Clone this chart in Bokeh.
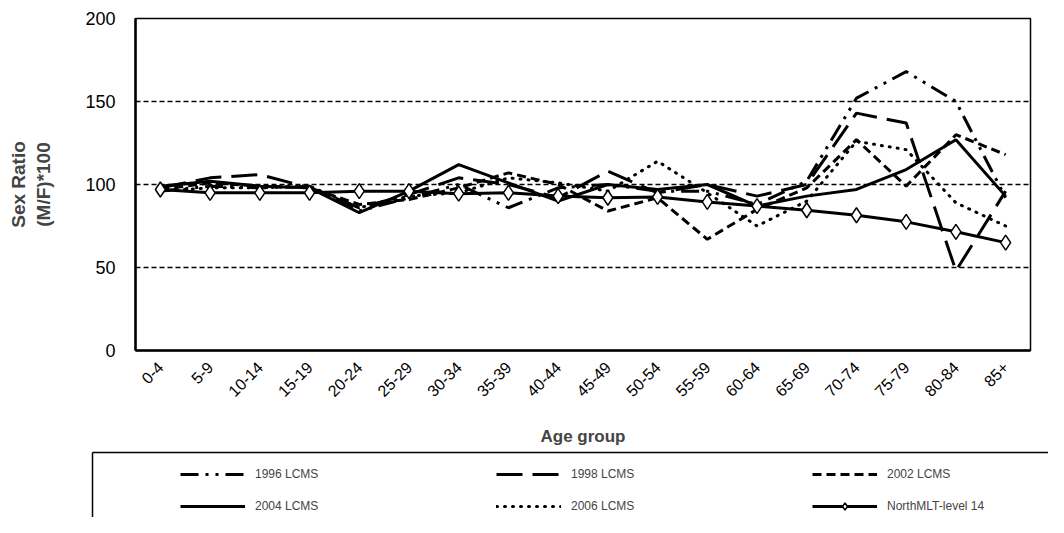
import math
from bokeh.plotting import figure
from bokeh.layouts import column, row
from bokeh.models import Legend, LegendItem, FactorRange, FixedTicker, LinearAxis, Range1d
from bokeh.embed import file_html
from bokeh.resources import INLINE

age_groups = ["0-4", "5-9", "10-14", "15-19", "20-24", "25-29", "30-34", "35-39", "40-44",
              "45-49", "50-54", "55-59", "60-64", "65-69", "70-74", "75-79", "80-84", "85+"]

lcms_1996 = [96, 99, 98, 99, 84, 92, 100, 86, 98, 100, 96, 96, 88, 102, 152, 168, 150, 92]
lcms_1998 = [98, 104, 106, 98, 86, 94, 104, 100, 92, 108, 95, 100, 93, 100, 143, 137, 48, 96]
lcms_2002 = [97, 101, 99, 98, 88, 91, 98, 107, 100, 84, 92, 67, 85, 98, 127, 99, 130, 118]
lcms_2004 = [99, 102, 99, 98, 83, 96, 112, 101, 90, 100, 97, 100, 87, 93, 97, 109, 127, 93]
lcms_2006 = [96, 98, 98, 99, 86, 93, 95, 104, 101, 96, 114, 95, 75, 90, 126, 121, 89, 75]
north_mlt = [97, 95, 95, 95, 96, 96, 94.5, 95, 93, 92, 92.5, 89.5, 87, 84.5, 81.5, 77.5, 71.5, 65]

series_names = ["1996 LCMS", "1998 LCMS", "2002 LCMS", "2004 LCMS", "2006 LCMS", "NorthMLT-level 14"]
series_values = [lcms_1996, lcms_1998, lcms_2002, lcms_2004, lcms_2006, north_mlt]

y_ticks = [0, 50, 100, 150, 200]

FONT = "Liberation Sans"
W = 3
STYLES = [
    dict(line_dash="18 7 3 7 3 7"),
    dict(line_dash="26 10"),
    dict(line_dash="9 5"),
    dict(line_dash="solid"),
    dict(line_dash="1 7", line_cap="round"),
    dict(line_dash="solid"),
]


def draw_series(fig, xs):
    rends = []
    for vals, st in zip(series_values, STYLES):
        r = fig.line(xs, vals, line_color="black", line_width=W, **st)
        rends.append([r])
    m = fig.scatter(xs, north_mlt, marker="diamond", size=15, fill_color="white",
                    line_color="black", line_width=1.5)
    rends[-1].append(m)
    return rends


# ---------------- main chart ----------------
p = figure(width=1048, height=450, x_range=FactorRange(*age_groups), y_range=(0, 200),
           output_backend="svg", toolbar_location=None,
           min_border_left=135, min_border_right=18, min_border_top=18, min_border_bottom=100)

p.background_fill_color = "white"
p.border_fill_color = "white"
p.outline_line_color = "black"
p.outline_line_width = 1.5

p.yaxis.ticker = FixedTicker(ticks=y_ticks)
p.yaxis.axis_label = "Sex Ratio\n(M/F)*100"
p.yaxis.axis_label_text_font = FONT
p.yaxis.axis_label_text_font_style = "bold"
p.yaxis.axis_label_text_font_size = "19px"
p.yaxis.axis_label_standoff = 28
p.yaxis.major_label_text_font = FONT
p.yaxis.major_label_text_font_size = "18px"
p.yaxis.major_label_text_color = "black"
p.yaxis.major_label_standoff = 14
p.yaxis.axis_line_width = 2.5
p.yaxis.axis_line_color = "black"
p.yaxis.major_tick_line_color = None
p.yaxis.minor_tick_line_color = None

p.xaxis.axis_label = "Age group"
p.xaxis.axis_label_text_font = FONT
p.xaxis.axis_label_text_font_style = "bold"
p.xaxis.axis_label_text_font_size = "17px"
p.xaxis.axis_label_standoff = 22
p.xaxis.major_label_text_font = FONT
p.xaxis.major_label_text_font_size = "16px"
p.xaxis.major_label_text_color = "black"
p.xaxis.major_label_orientation = math.pi / 4
p.xaxis.major_label_standoff = 8
p.xaxis.axis_line_width = 2.5
p.xaxis.axis_line_color = "black"
p.xaxis.major_tick_line_color = None
p.xaxis.minor_tick_line_color = None

p.xgrid.grid_line_color = None
p.ygrid.grid_line_color = "black"
p.ygrid.grid_line_dash = "5 3"
p.ygrid.grid_line_width = 1.3

draw_series(p, age_groups)

# ---------------- legend strip ----------------
lg = figure(width=1048, height=67, x_range=FactorRange(*age_groups), y_range=Range1d(1000, 1001),
            output_backend="svg", toolbar_location=None,
            x_axis_location=None, y_axis_location=None,
            min_border_left=92, min_border_right=0, min_border_top=2, min_border_bottom=0)
lg.outline_line_color = None
lg.grid.grid_line_color = None
lg.background_fill_color = "white"
lg.border_fill_color = "white"

for side in ("above", "left"):
    ax = LinearAxis(ticker=FixedTicker(ticks=[]), axis_line_color="black", axis_line_width=1.5,
                    major_tick_line_color=None, minor_tick_line_color=None,
                    major_tick_out=0, minor_tick_out=0, major_label_standoff=0)
    lg.add_layout(ax, side)

leg_rends = draw_series(lg, age_groups)

legend = Legend(items=[LegendItem(label=n, renderers=r) for n, r in zip(series_names, leg_rends)],
                location=(88, 2), orientation="horizontal", ncols=3)
legend.border_line_color = None
legend.background_fill_alpha = 0
legend.padding = 2
legend.margin = 0
legend.glyph_width = 65
legend.glyph_height = 18
legend.label_height = 18
legend.label_width = 227
legend.label_standoff = 10
legend.spacing = 14
legend.label_text_font = FONT
legend.label_text_font_size = "12px"
lg.add_layout(legend, "center")

layout = column(p, row(lg, spacing=0), spacing=0)

open("out.html", "w").write(file_html(layout, INLINE))
